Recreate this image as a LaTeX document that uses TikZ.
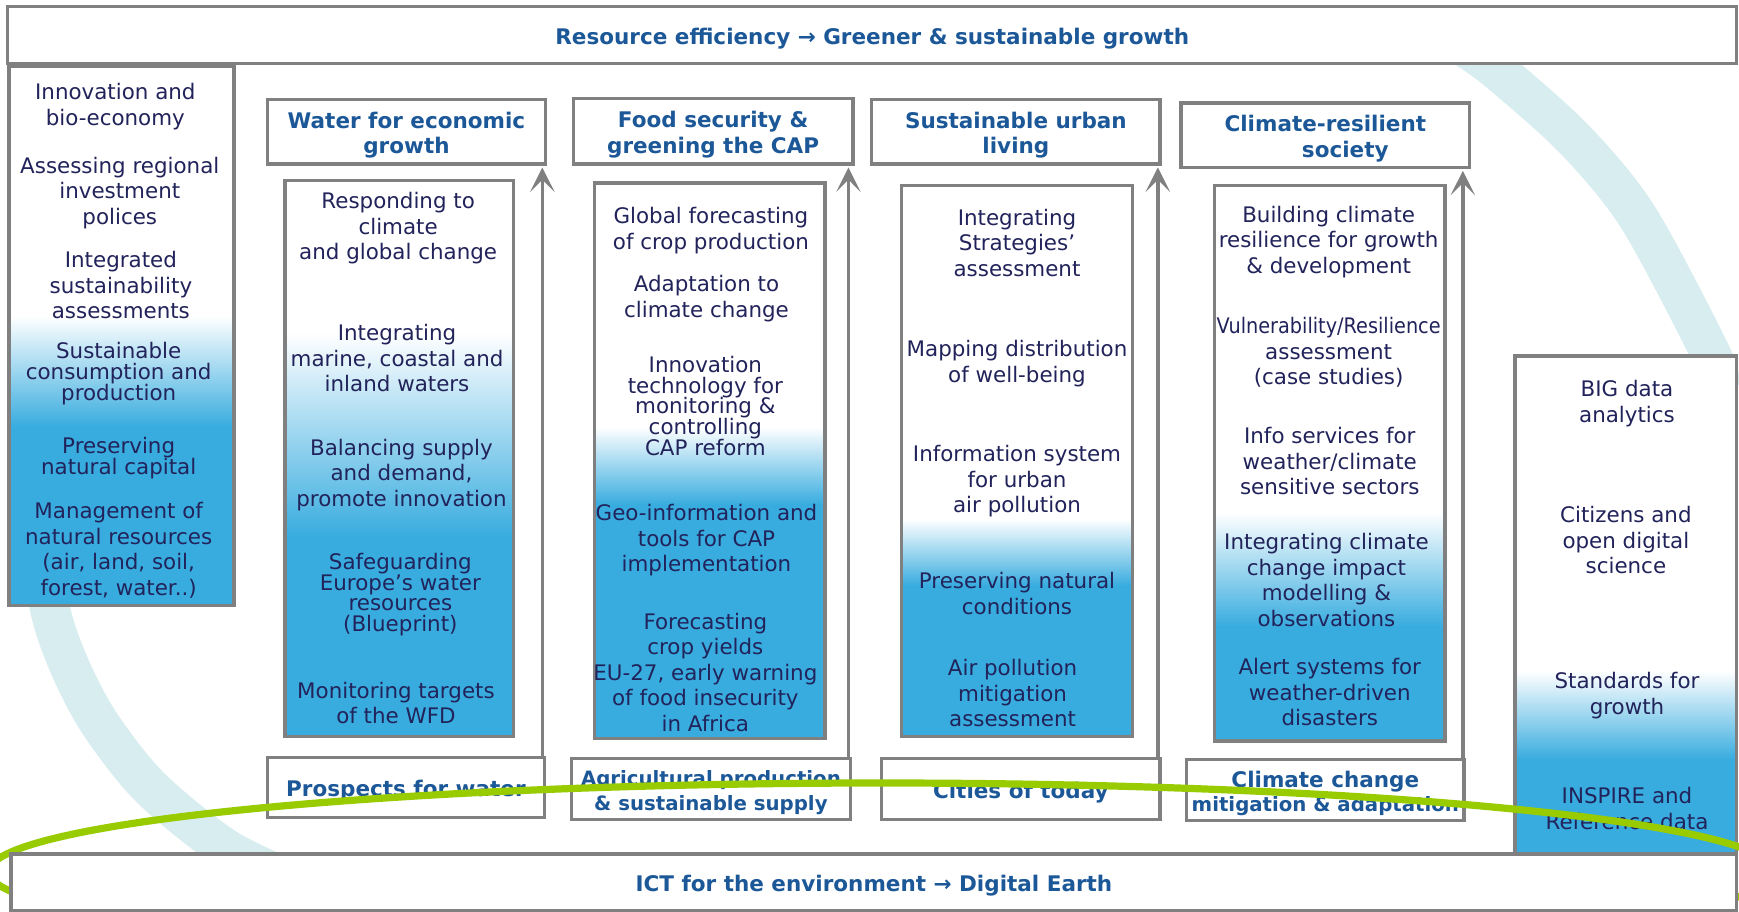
\documentclass[tikz,border=0pt]{standalone}
\usepackage{fontspec}
\setmainfont{DejaVu Sans}
\newfontfamily\narrowf[FakeStretch=0.9]{DejaVu Sans}
\usetikzlibrary{arrows.meta}
\definecolor{jblue}{RGB}{56,172,223}
\definecolor{navy}{RGB}{33,35,90}
\definecolor{hblue}{RGB}{28,88,152}
\definecolor{bgray}{RGB}{128,128,128}
\definecolor{arccol}{RGB}{216,237,239}
\definecolor{lgreen}{RGB}{153,204,0}
\tikzset{
  frame/.style={draw=bgray, line width=3pt, fill=white, inner sep=0pt, outer sep=0pt, anchor=north west},
  gframe/.style={draw=bgray, line width=3pt, inner sep=0pt, outer sep=0pt, anchor=north west},
  hdr/.style={font=\bfseries\fontsize{19.4}{23}\selectfont, text=hblue, align=center, inner sep=0pt},
  txt/.style={font=\fontsize{19.3}{23}\selectfont, text=navy, align=center, inner sep=0pt},
  tight/.style={font=\fontsize{19.3}{18.7}\selectfont},
  arr/.style={draw=bgray, line width=3pt, shorten >=3pt, -{Stealth[length=22pt,width=22pt,inset=11pt]}},
  arcband/.style={draw=arccol, line width=36pt},
  greenline/.style={draw=lgreen, line width=6.5pt},
}
\newcommand\gradbox[7]{%
  \fill[white] (#2,#3) rectangle (#4,#5);
  \shade[top color=white, bottom color=jblue] (#2,#6) rectangle (#4,#7);
  \fill[jblue] (#2,#7) rectangle (#4,#5);
  \node[gframe, minimum width={#4-#2}, minimum height={#5-#3}] (#1) at (#2,#3) {};
}
\begin{document}
\begin{tikzpicture}[x=1pt,y=-1pt]
\useasboundingbox (0,0) rectangle (1568,822);
\clip (0,0) rectangle (1568,822);
\fill[white] (0,0) rectangle (1568,822);
% background arcs
\draw[arcband] plot[smooth] coordinates {(1309,35) (1347,61) (1419,125) (1477,196) (1542,318) (1550,345)};
\draw[arcband] plot[smooth] coordinates {(34,460) (44.7,547) (62.4,600) (89.7,652) (135.4,710) (205,766) (277.8,800)};
% top box
\node[frame, minimum width=1559, minimum height=51] (top) at (7,6) {};
\node[hdr] (topt) at ([yshift=-3pt]top.center) {Resource efficiency → Greener \& sustainable growth};
% side boxes
\gradbox{left}{8}{60}{211}{546}{285}{385}
\gradbox{right}{1366}{321}{1566}{770}{605}{685}
% headers
\node[frame, minimum width=251, minimum height=58] (h1) at (241,90) {};
\node[frame, minimum width=252, minimum height=59] (h2) at (517,89) {};
\node[frame, minimum width=260, minimum height=58] (h3) at (786,90) {};
\node[frame, minimum width=260, minimum height=58] (h4) at (1065,93) {};
\node[hdr] (h1t) at ([yshift=-3pt]h1.center) {Water for economic\\growth};
\node[hdr] (h2t) at ([yshift=-3pt]h2.center) {Food security \&\\greening the CAP};
\node[hdr] (h3t) at ([yshift=-3pt]h3.center) {Sustainable urban\\living};
\node[hdr] (h4t) at ([yshift=-3pt]h4.center) {Climate-resilient\\\hspace*{36pt}society};
% inner boxes
\gradbox{i1}{257}{163}{463}{664}{300}{485}
\gradbox{i2}{536}{165}{744}{666}{385}{455}
\gradbox{i3}{813}{167}{1021}{664}{468}{528}
\gradbox{i4}{1095}{167}{1303}{668}{462}{565}
% bottom boxes
\node[frame, minimum width=250, minimum height=54] (b1) at (241,683) {};
\node[frame, minimum width=252, minimum height=55] (b2) at (515,684) {};
\node[frame, minimum width=251, minimum height=55] (b3) at (795,684) {};
\node[frame, minimum width=250, minimum height=55] (b4) at (1070,685) {};
\node[hdr] (b1t) at ([yshift=-3pt]b1.center) {Prospects for water};
\node[hdr, font=\bfseries\fontsize{17.8}{22}\selectfont] (b2t) at ([yshift=-3pt]b2.center) {Agricultural production\\\& sustainable supply};
\node[hdr] (b3t) at ([yshift=-3pt]b3.center) {Cities of today};
\node[hdr, font=\bfseries\fontsize{19.4}{21}\selectfont] (b4t) at ([yshift=-3pt]b4.center) {Climate change\\{\fontsize{17.8}{21}\selectfont mitigation \& adaptation}};
% arrows
\draw[arr] ([xshift=-2pt]b1.north east) -- ([xshift=-2pt]b1.north east |- h1.south);
\draw[arr] ([xshift=-2pt]b2.north east) -- ([xshift=-2pt]b2.north east |- h2.south);
\draw[arr] ([xshift=-2pt]b3.north east) -- ([xshift=-2pt]b3.north east |- h3.south);
\draw[arr] ([xshift=-1pt]b4.north east) -- ([xshift=-1pt]b4.north east |- h4.south);
% left box texts
\node[txt] (la) at (104,96) {Innovation and\\bio-economy};
\node[txt] (lb) at (108,174) {Assessing regional\\investment\\polices};
\node[txt] (lc) at (109,257) {Integrated\\sustainability\\assessments};
\node[txt, tight] (ld) at (107,337) {Sustainable\\consumption and\\production};
\node[txt, tight] (le) at (107,413) {Preserving\\natural capital};
\node[txt] (lf) at (107,496) {Management of\\natural resources\\(air, land, soil,\\forest, water..)};
% column 1
\node[txt] (c1a) at (359,206) {Responding to\\climate\\and global change};
\node[txt] (c1b) at (358,323) {Integrating\\marine, coastal and\\inland waters};
\node[txt] (c1c) at (362,428) {Balancing supply\\and demand,\\promote innovation};
\node[txt, tight] (c1d) at (361,536) {Safeguarding\\Europe’s water\\resources\\(Blueprint)};
\node[txt] (c1e) at (357,634) {Monitoring targets\\of the WFD};
% column 2
\node[txt] (c2a) at (641,208) {Global forecasting\\of crop production};
\node[txt] (c2b) at (637,269) {Adaptation to\\climate change};
\node[txt, tight] (c2c) at (636,366) {Innovation\\technology for\\monitoring \&\\controlling\\CAP reform};
\node[txt] (c2d) at (637,487) {Geo-information and\\tools for CAP\\implementation};
\node[txt] (c2e) at (636,606) {Forecasting\\crop yields\\EU-27, early warning\\of food insecurity\\in Africa};
% column 3
\node[txt] (c3a) at (917,219) {Integrating\\Strategies’\\assessment};
\node[txt] (c3b) at (917,328) {Mapping distribution\\of well-being};
\node[txt] (c3c) at (917,434) {Information system\\for urban\\air pollution};
\node[txt] (c3d) at (917,535) {Preserving natural\\conditions};
\node[txt] (c3e) at (913,625) {Air pollution\\mitigation\\assessment};
% column 4
\node[txt] (c4a) at (1198,218) {Building climate\\resilience for growth\\\& development};
\node[txt] (c4b) at (1198,318) {{\narrowf Vulnerability/Resilience}\\assessment\\(case studies)};
\node[txt] (c4c) at (1199,416) {Info services for\\weather/climate\\sensitive sectors};
\node[txt] (c4d) at (1196,523) {Integrating climate\\change impact\\modelling \&\\observations};
\node[txt] (c4e) at (1199,624) {Alert systems for\\weather-driven\\disasters};
% right box
\node[txt] (ra) at (1467,364) {BIG data\\analytics};
\node[txt] (rb) at (1466,487) {Citizens and\\open digital\\science};
\node[txt] (rc) at (1467,627) {Standards for\\growth};
\node[txt] (rd) at (1467,729) {INSPIRE and\\Reference data};
% green ellipse
\draw[greenline] (795,786) ellipse [x radius=805, y radius=80];
% bottom box
\node[frame, minimum width=1556, minimum height=51] (bot) at (10,770) {};
\node[hdr] (bott) at ([yshift=-3pt]bot.center) {ICT for the environment → Digital Earth};
\end{tikzpicture}
\end{document}
